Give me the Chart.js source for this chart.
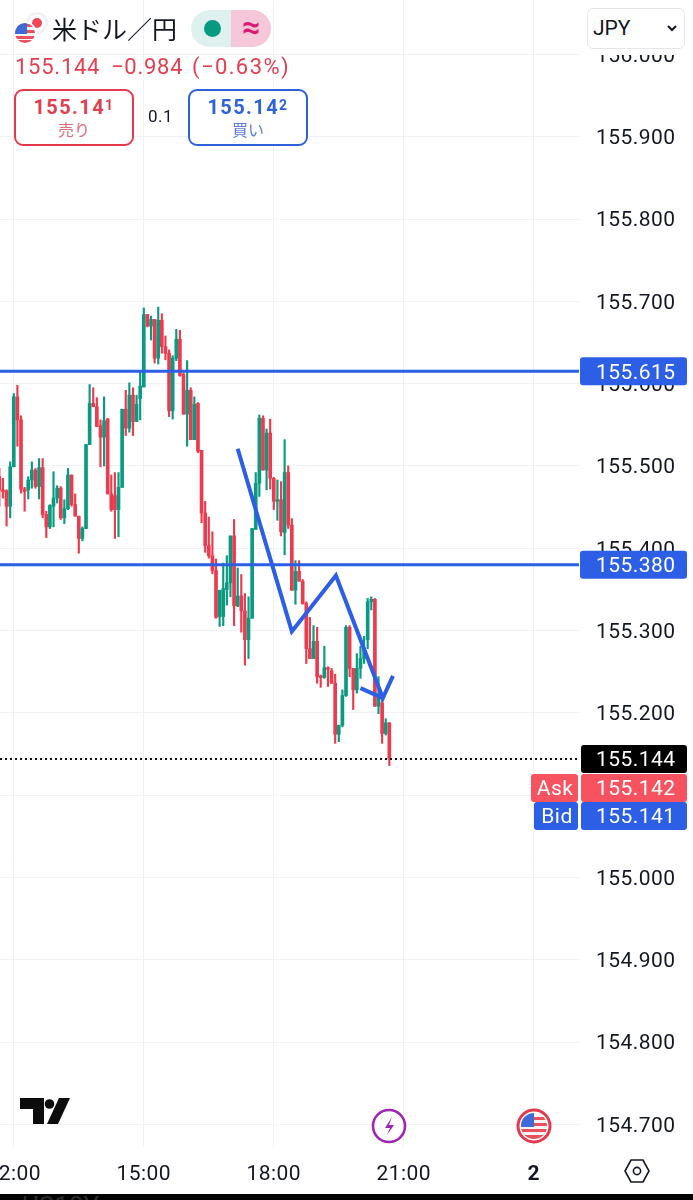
<!DOCTYPE html>
<html lang="ja"><head><meta charset="utf-8">
<style>
html,body{margin:0;padding:0;background:#fff;width:693px;height:1200px;overflow:hidden;font-family:Roboto,sans-serif}
#wrap{position:absolute;left:0;top:0;width:693px;height:1194px}
canvas{display:block}
.a{position:absolute;white-space:nowrap}
.box{position:absolute;box-sizing:border-box;border:2px solid;border-radius:9px;background:#fff;text-align:center}
sup{font-size:14px;vertical-align:baseline;position:relative;top:-4px;margin-left:0}
.q{position:absolute;top:54px;font-size:22px;line-height:26px;color:#e0404f;white-space:nowrap}
</style></head><body>
<div id="wrap"><canvas id="c" width="693" height="1194"></canvas></div>

<div class="a" style="left:580px;top:0;width:113px;height:55px;background:#fff"></div>
<div class="a" style="left:587px;top:8px;width:98px;height:41px;box-sizing:border-box;border:1.5px solid #e6e7ea;border-radius:6px"></div>
<div class="a" style="left:593px;top:16px;font-size:21px;line-height:24px;color:#131722">JPY</div>
<svg class="a" style="left:666px;top:24px" width="12" height="9"><path d="M2 2l4 4 4-4" fill="none" stroke="#131722" stroke-width="2"/></svg>

<svg class="a" style="left:13px;top:11px" width="36" height="36" viewBox="0 0 36 36">
<circle cx="24" cy="12" r="11" fill="#eef0f4"/><circle cx="24" cy="12" r="8.5" fill="#fff"/><circle cx="24" cy="12" r="5" fill="#f0485a"/>
<circle cx="12" cy="22" r="11.5" fill="#fff"/>
<clipPath id="f1"><circle cx="12" cy="22" r="10"/></clipPath>
<g clip-path="url(#f1)"><rect x="0" y="10" width="24" height="24" fill="#f4f4f6"/><rect x="0" y="13" width="24" height="3" fill="#e9515c"/><rect x="0" y="19" width="24" height="3" fill="#e9515c"/><rect x="0" y="25" width="24" height="3" fill="#e9515c"/><rect x="0" y="29" width="24" height="5" fill="#e9515c"/><rect x="0" y="10" width="14" height="13" fill="#3f6bd8"/></g>
</svg>
<div class="a" style="left:52px;top:10px;font-family:'Noto Sans CJK JP';font-size:25px;line-height:36px;color:#131722">米ドル／円</div>

<div class="a" style="left:191px;top:10px;width:80px;height:37px;border-radius:19px;overflow:hidden">
 <div class="a" style="left:0;top:0;width:40px;height:37px;background:#dff1ee"></div>
 <div class="a" style="left:40px;top:0;width:40px;height:37px;background:#f6c6d9"></div>
 <div class="a" style="left:13px;top:10px;width:17px;height:17px;border-radius:50%;background:#089981"></div>
 <div class="a" style="left:40px;top:0;width:40px;height:37px;line-height:35px;text-align:center;font-size:32px;font-weight:700;color:#d81b72">≈</div>
</div>

<div class="q" style="left:15px;letter-spacing:.75px">155.144</div>
<div class="q" style="left:111px;letter-spacing:.75px">−0.984</div>
<div class="q" style="left:192px;letter-spacing:1.4px">(−0.63%)</div>

<div class="box" style="left:14px;top:89px;width:120px;height:57px;border-color:#e5394d">
 <div style="font-size:20px;letter-spacing:1.4px;font-weight:700;line-height:24px;margin-top:4px;color:#df3f52">155.14<sup>1</sup></div>
 <div style="font-family:'Noto Sans CJK JP';font-size:16px;line-height:20px;margin-top:-2px;color:#dc6f7e">売り</div>
</div>
<div class="a" style="left:148px;top:106px;font-size:17px;letter-spacing:.5px;line-height:20px;color:#131722">0.1</div>
<div class="box" style="left:188px;top:89px;width:120px;height:57px;border-color:#2e62d9">
 <div style="font-size:20px;letter-spacing:1.4px;font-weight:700;line-height:24px;margin-top:4px;color:#2e62d9">155.14<sup>2</sup></div>
 <div style="font-family:'Noto Sans CJK JP';font-size:16px;line-height:20px;margin-top:-2px;color:#5b80d8">買い</div>
</div>

<svg class="a" style="left:20px;top:1098px" width="51" height="27" viewBox="0 0 51 27">
<path d="M0 0H24V26H13V11H0Z" fill="#0c0c0c"/><circle cx="29.5" cy="6" r="4.8" fill="#0c0c0c"/><path d="M39 0H50L38 26H27Z" fill="#0c0c0c"/>
</svg>
<svg class="a" style="left:371px;top:1108px" width="36" height="36" viewBox="0 0 36 36">
<circle cx="18" cy="18" r="16" fill="#fff" stroke="#9c27b0" stroke-width="2.6"/><path d="M21 9l-7 11h5l-3 7 7-10h-5z" fill="#9c27b0"/>
</svg>
<svg class="a" style="left:516px;top:1108px" width="36" height="36" viewBox="0 0 36 36">
<circle cx="18" cy="18" r="16" fill="#fff" stroke="#e5394d" stroke-width="3"/>
<clipPath id="f2"><circle cx="18" cy="18" r="13"/></clipPath>
<g clip-path="url(#f2)"><rect x="0" y="5" width="36" height="26" fill="#f3f3f5"/><rect x="0" y="9" width="36" height="3" fill="#e9515c"/><rect x="0" y="15" width="36" height="3" fill="#e9515c"/><rect x="0" y="21" width="36" height="12" fill="#e9515c"/><rect x="0" y="5" width="18" height="14" fill="#3f6bd8"/><rect x="0" y="24" width="36" height="3" fill="#f3f3f5"/></g>
</svg>
<svg class="a" style="left:623px;top:1158px" width="28" height="26" viewBox="0 0 28 26">
<path d="M8 2H20L26 13 20 24H8L2 13Z" fill="none" stroke="#131722" stroke-width="1.6"/><circle cx="14" cy="13" r="3.6" fill="none" stroke="#131722" stroke-width="1.6"/>
</svg>

<div class="a" style="left:0;top:1194px;width:693px;height:6px;background:#000;overflow:hidden">
 <div class="a" style="left:22px;top:-2px;font-size:26px;color:#2c2c2e;line-height:28px">US10Y</div>
</div>

<script src="https://cdn.jsdelivr.net/npm/chart.js@4/dist/chart.umd.min.js"></script>
<script>
const opens=[155.487,155.471,155.470,155.451,
155.499,155.584,155.556,155.472,155.471,155.483,155.495,155.475,155.498,155.441,
155.426,155.451,155.461,155.473,155.437,155.448,155.489,155.453,155.439,155.412,
155.424,155.526,155.576,155.572,155.549,155.535,155.557,155.466,155.464,155.447,
155.474,155.569,155.546,155.586,155.554,155.582,155.596,155.684,155.670,155.678,
155.631,155.677,155.645,155.637,155.567,155.631,155.654,155.611,155.563,155.592,
155.532,155.576,155.519,155.443,155.403,155.391,155.373,155.317,155.317,155.350,
155.358,155.415,155.330,155.342,155.324,155.289,155.315,155.423,155.479,155.558,
155.495,155.540,155.485,155.457,155.459,155.419,155.492,155.428,155.349,155.372,
155.360,155.333,155.278,155.266,155.287,155.245,155.243,155.255,155.251,155.236,
155.174,155.185,155.221,155.304,155.254,155.228,155.254,155.266,155.289,155.335,
155.338,155.208,155.212,155.175,155.188];
const highs=[155.497,155.485,155.471,155.505,
155.588,155.598,155.561,155.474,155.487,155.505,155.497,155.509,155.509,155.445,
155.453,155.493,155.476,155.475,155.459,155.497,155.489,155.466,155.439,155.426,
155.526,155.599,155.595,155.583,155.556,155.584,155.558,155.489,155.492,155.492,
155.569,155.592,155.601,155.595,155.586,155.615,155.692,155.684,155.682,155.678,
155.693,155.685,155.658,155.641,155.634,155.666,155.665,155.613,155.628,155.595,
155.584,155.577,155.519,155.457,155.438,155.420,155.387,155.349,155.382,155.391,
155.415,155.435,155.376,155.368,155.345,155.341,155.424,155.492,155.562,155.561,
155.545,155.557,155.486,155.483,155.481,155.532,155.500,155.436,155.385,155.385,
155.362,155.335,155.316,155.306,155.304,155.246,155.281,155.256,155.254,155.247,
155.185,155.228,155.306,155.306,155.254,155.272,155.281,155.293,155.339,155.341,
155.339,155.244,155.218,155.193,155.188];
const lows=[155.451,155.461,155.427,155.437,
155.499,155.524,155.467,155.445,155.460,155.473,155.473,155.460,155.437,155.413,
155.424,155.426,155.455,155.435,155.430,155.447,155.451,155.439,155.394,155.409,
155.424,155.526,155.572,155.548,155.499,155.500,155.466,155.445,155.412,155.414,
155.474,155.537,155.541,155.537,155.554,155.556,155.596,155.669,155.653,155.625,
155.624,155.637,155.629,155.560,155.557,155.628,155.609,155.563,155.524,155.532,
155.532,155.516,155.431,155.395,155.388,155.369,155.315,155.305,155.306,155.331,
155.341,155.306,155.329,155.298,155.258,155.266,155.315,155.423,155.463,155.495,
155.471,155.472,155.447,155.434,155.415,155.392,155.424,155.349,155.332,155.360,
155.332,155.260,155.266,155.266,155.236,155.231,155.242,155.232,155.236,155.163,
155.165,155.183,155.220,155.244,155.204,155.224,155.242,155.260,155.278,155.325,
155.208,155.199,155.163,155.173,155.136];
const closes=[155.471,155.469,155.451,155.499,
155.584,155.556,155.472,155.469,155.483,155.495,155.475,155.498,155.441,155.426,
155.452,155.461,155.473,155.437,155.448,155.489,155.453,155.439,155.412,155.424,
155.526,155.576,155.572,155.548,155.535,155.555,155.466,155.447,155.447,155.474,
155.569,155.546,155.586,155.554,155.575,155.597,155.684,155.670,155.678,155.631,
155.677,155.645,155.637,155.567,155.631,155.654,155.610,155.563,155.592,155.532,
155.575,155.518,155.443,155.403,155.391,155.373,155.316,155.349,155.351,155.358,
155.415,155.330,155.342,155.324,155.289,155.315,155.424,155.479,155.558,155.495,
155.540,155.485,155.457,155.459,155.420,155.492,155.428,155.349,155.372,155.360,
155.333,155.278,155.266,155.287,155.244,155.243,155.255,155.253,155.236,155.174,
155.185,155.221,155.304,155.254,155.228,155.254,155.266,155.278,155.335,155.338,
155.208,155.218,155.175,155.188,155.144];
// minutes since 12:00 for each 5-minute candle
const candleMinutes=opens.map((_,k)=>(k-4)*5);
const xTickLabels={0:'12:00',180:'15:00',360:'18:00',540:'21:00',720:'2'};
const levelLines=[155.615,155.380];
const lastPrice=155.144, askPrice=155.142, bidPrice=155.141;
const zigzagX=[310,385,446,511,525];
const zigzagY=[155.521,155.299,155.367,155.218,155.245];
const legX=[480,511];
const legY=[155.230,155.218];
const xMin=-19.1,xMax=782.6,yMin=154.6725,yMax=156.0662;

const RED='#ec3a4e',GREEN='#0a9a82',BLUE='#2c5fe6';
const colors=opens.map((o,k)=>closes[k]<o?RED:GREEN);
const FONT='Roboto';

const tags={id:'tags',
 beforeDraw(ch){ch.ctx.letterSpacing='.45px';},
 afterDraw(ch){
 const c=ch.ctx,y=ch.scales.y;
 const tag=(x,top,w,h,col,txt,align,tx)=>{
  c.fillStyle=col;c.beginPath();c.roundRect(x,top,w,h,3);c.fill();
  c.fillStyle='#fff';c.font='21px '+FONT;c.textAlign=align;c.textBaseline='middle';c.fillText(txt,tx,top+h/2+2);
 };
 levelLines.forEach(v=>{const p=y.getPixelForValue(v);tag(580,p-14,107,28,BLUE,v.toFixed(3),'left',596);});
 const p=y.getPixelForValue(lastPrice);
 tag(581,p-14,106,28,'#000',lastPrice.toFixed(3),'left',596);
 tag(531,p+15,47,28,'#f7525f','Ask','center',555);
 tag(581,p+15,106,28,'#f7525f',askPrice.toFixed(3),'left',596);
 tag(534,p+43,44,28,BLUE,'Bid','center',557);
 tag(581,p+43,106,28,BLUE,bidPrice.toFixed(3),'left',596);
}};

new Chart(document.getElementById('c'),{
 type:'bar',
 plugins:[tags],
 data:{datasets:[
  {type:'line',order:0,data:zigzagX.map((x,k)=>({x,y:zigzagY[k]})),borderColor:BLUE,borderWidth:4,pointRadius:0,tension:0,borderJoinStyle:'miter'},
  {type:'line',order:0,data:legX.map((x,k)=>({x,y:legY[k]})),borderColor:BLUE,borderWidth:4,pointRadius:0,tension:0},
  {type:'line',order:1,data:[{x:xMin,y:levelLines[0]},{x:xMax,y:levelLines[0]}],borderColor:BLUE,borderWidth:3,pointRadius:0},
  {type:'line',order:1,data:[{x:xMin,y:levelLines[1]},{x:xMax,y:levelLines[1]}],borderColor:BLUE,borderWidth:3,pointRadius:0},
  {type:'line',order:2,data:[{x:xMin,y:lastPrice},{x:xMax,y:lastPrice}],borderColor:'#111',borderWidth:2,borderDash:[2,3],pointRadius:0},
  {type:'bar',order:3,grouped:false,barThickness:3,minBarLength:1,borderWidth:0,borderSkipped:false,
   backgroundColor:colors,data:candleMinutes.map((x,k)=>({x,y:[opens[k],closes[k]]}))},
  {type:'bar',order:4,grouped:false,barThickness:1.5,borderWidth:0,borderSkipped:false,
   backgroundColor:colors,data:candleMinutes.map((x,k)=>({x,y:[lows[k],highs[k]]}))}
 ]},
 options:{
  responsive:false,animation:false,
  layout:{padding:0},
  plugins:{legend:{display:false},tooltip:{enabled:false}},
  scales:{
   x:{type:'linear',position:'bottom',min:xMin,max:xMax,offset:false,
    grid:{color:'#f0f1f4',lineWidth:1,drawTicks:false,offset:false},border:{display:false},
    afterFit(s){s.height=47;s.paddingLeft=0;s.paddingRight=0;},
    ticks:{stepSize:180,autoSkip:false,maxRotation:0,minRotation:0,includeBounds:false,padding:15,color:'#131722',
     font:c=>({family:FONT,size:21,weight:c.tick&&c.tick.value===720?'700':'400'}),
     callback:v=>xTickLabels[v]??''}},
   y:{type:'linear',position:'right',min:yMin,max:yMax,
    grid:{color:'#f0f1f4',lineWidth:1,drawTicks:false},border:{display:false},
    afterFit(s){s.width=114;s.paddingTop=0;s.paddingBottom=0;},
    ticks:{stepSize:0.1,autoSkip:false,includeBounds:false,crossAlign:'near',padding:17,labelOffset:2,color:'#131722',
     font:{family:FONT,size:21},callback:v=>Number(v).toFixed(3)}}
  }
 }
});
</script>
</body></html>
